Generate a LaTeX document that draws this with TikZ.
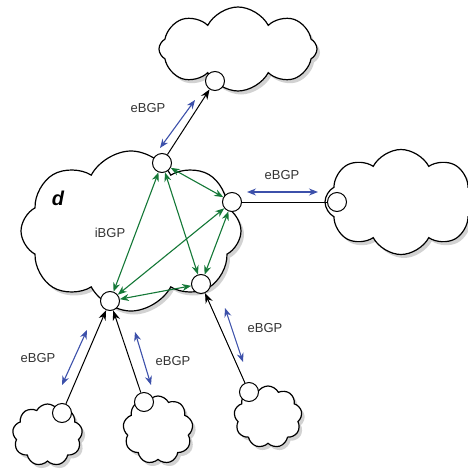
\documentclass[tikz,border=0pt]{standalone}
\usepackage{fontspec}
\setmainfont{Liberation Sans}
\usetikzlibrary{shapes.symbols,shadows,arrows.meta}
\definecolor{ibgp}{RGB}{20,120,55}
\definecolor{ebgp}{RGB}{60,80,170}
\begin{document}
\begin{tikzpicture}[x=1pt,y=-1pt,
  cl/.style={cloud, cloud puffs=#1, cloud puff arc=125, cloud ignores aspect, draw, line width=1.2pt, fill=white,
    drop shadow={shadow xshift=3pt,shadow yshift=-3.5pt,fill=black!35}},
  rt/.style={circle, draw, fill=white, minimum size=19pt, inner sep=0pt, line width=1pt},
  blk/.style={-{Stealth[length=10pt,width=7.5pt]}, line width=1pt},
  grn/.style={ibgp, {Stealth[length=9pt,width=7pt]}-{Stealth[length=9pt,width=7pt]}, line width=1.1pt},
  blu/.style={ebgp, {Stealth[length=9pt,width=7pt]}-{Stealth[length=9pt,width=7pt]}, line width=1.1pt},
  lab/.style={font=\fontsize{13}{15}\selectfont, text=black!80}
]
\useasboundingbox (0,0) rectangle (468,469);
% clouds
\node[cl=8, minimum width=158pt, minimum height=84pt] (top) at (238,49) {};
\node[cl=8, minimum width=152pt, minimum height=105pt] (right) at (401,202) {};
\node[cl=8, minimum width=220pt, minimum height=160pt] (main) at (131,231) {};
\node[cl=9, minimum width=70pt, minimum height=62pt] (bl) at (47.5,435) {};
\node[cl=9, minimum width=70pt, minimum height=68pt] (bm) at (158,430) {};
\node[cl=9, minimum width=68pt, minimum height=62pt] (br) at (268,417) {};
% routers
\node[rt] (A) at (162,163) {};
\node[rt] (B) at (232,202) {};
\node[rt] (C) at (201,284) {};
\node[rt] (D) at (110,301) {};
\node[rt] (E) at (215,81) {};
\node[rt] (F) at (337,202) {};
\node[rt] (G) at (62,413) {};
\node[rt] (H) at (144,402) {};
\node[rt] (I) at (249,392) {};
% labels
\node[font=\fontsize{20}{24}\selectfont\bfseries\itshape] (dl) at (58,198) {d};
\node[lab] (il) at (110,233) {iBGP};
\node[lab] (e1) at (148,108) {eBGP};
\node[lab] (e2) at (282,175) {eBGP};
\node[lab] (e3) at (38,358) {eBGP};
\node[lab] (e4) at (173,361) {eBGP};
\node[lab] (e5) at (265,328) {eBGP};
% iBGP full mesh
\draw[grn] (A) -- (B);
\draw[grn] (A) -- (C);
\draw[grn] (A) -- (D);
\draw[grn] (B) -- (C);
\draw[grn] (B) -- (D);
\draw[grn] (C) -- (D);
% eBGP links
\draw[blk] (A) -- (E);
\draw[line width=1pt] (B) -- (F);
\draw[blk] (G) -- (D);
\draw[blk] (H) -- (D);
\draw[blk] (I) -- (C);
% eBGP session arrows
\coordinate (b1s) at (160,148); \coordinate (b1e) at (195,100);
\coordinate (b2s) at (247,192); \coordinate (b2e) at (318,192);
\coordinate (b3s) at (87,330);  \coordinate (b3e) at (62,385);
\coordinate (b4s) at (135,332); \coordinate (b4e) at (151,385);
\coordinate (b5s) at (225,308); \coordinate (b5e) at (243,362);
\draw[blu] (b1s) -- (b1e);
\draw[blu] (b2s) -- (b2e);
\draw[blu] (b3s) -- (b3e);
\draw[blu] (b4s) -- (b4e);
\draw[blu] (b5s) -- (b5e);
\end{tikzpicture}
\end{document}
